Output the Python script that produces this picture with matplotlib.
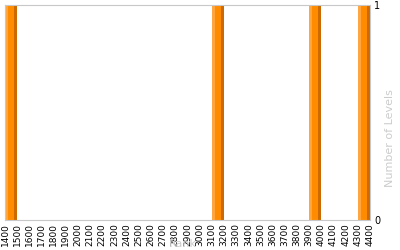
import matplotlib
matplotlib.use("Agg")
import matplotlib.pyplot as plt
import numpy as np

# rank bins (width 100) and level counts
bin_starts = [1400, 3100, 3900, 4300]
counts = [1, 1, 1, 1]
tick_values = list(range(1400, 4401, 100))
bin_width = 100

fig = plt.figure(figsize=(4, 2.5), dpi=100)
ax = fig.add_axes([0.0125, 0.12, 0.9125, 0.86])

# shaded bar: light left strip, main body, dark right strip
ax.bar(bin_starts, counts, width=bin_width, align='edge', color='#cc6a00', linewidth=0)
ax.bar(bin_starts, counts, width=bin_width * 0.72, align='edge', color='#ff8c00', linewidth=0)
ax.bar(bin_starts, counts, width=bin_width * 0.25, align='edge', color='#ffa640', linewidth=0)

ax.set_xlim(1400, 4400)
ax.set_ylim(0, 1)
ax.set_xticks(tick_values)
ax.set_xticklabels([str(v) for v in tick_values], rotation=90, fontsize=6.5)
ax.yaxis.tick_right()
ax.set_yticks([0, 1])
ax.tick_params(axis='y', length=0, labelsize=7, pad=3)
ax.tick_params(axis='x', length=0, pad=2)

for side in ['left', 'right', 'top', 'bottom']:
    ax.spines[side].set_color('#c8c8c8')

ax.text(1.055, 0.38, 'Number of Levels', transform=ax.transAxes, rotation=90,
        color='#cccccc', fontsize=8, ha='center', va='center')
ax.text(0.488, -0.11, 'Rank', transform=ax.transAxes,
        color='#cccccc', fontsize=8, ha='center', va='center')

fig.savefig('out.png', dpi=100)
